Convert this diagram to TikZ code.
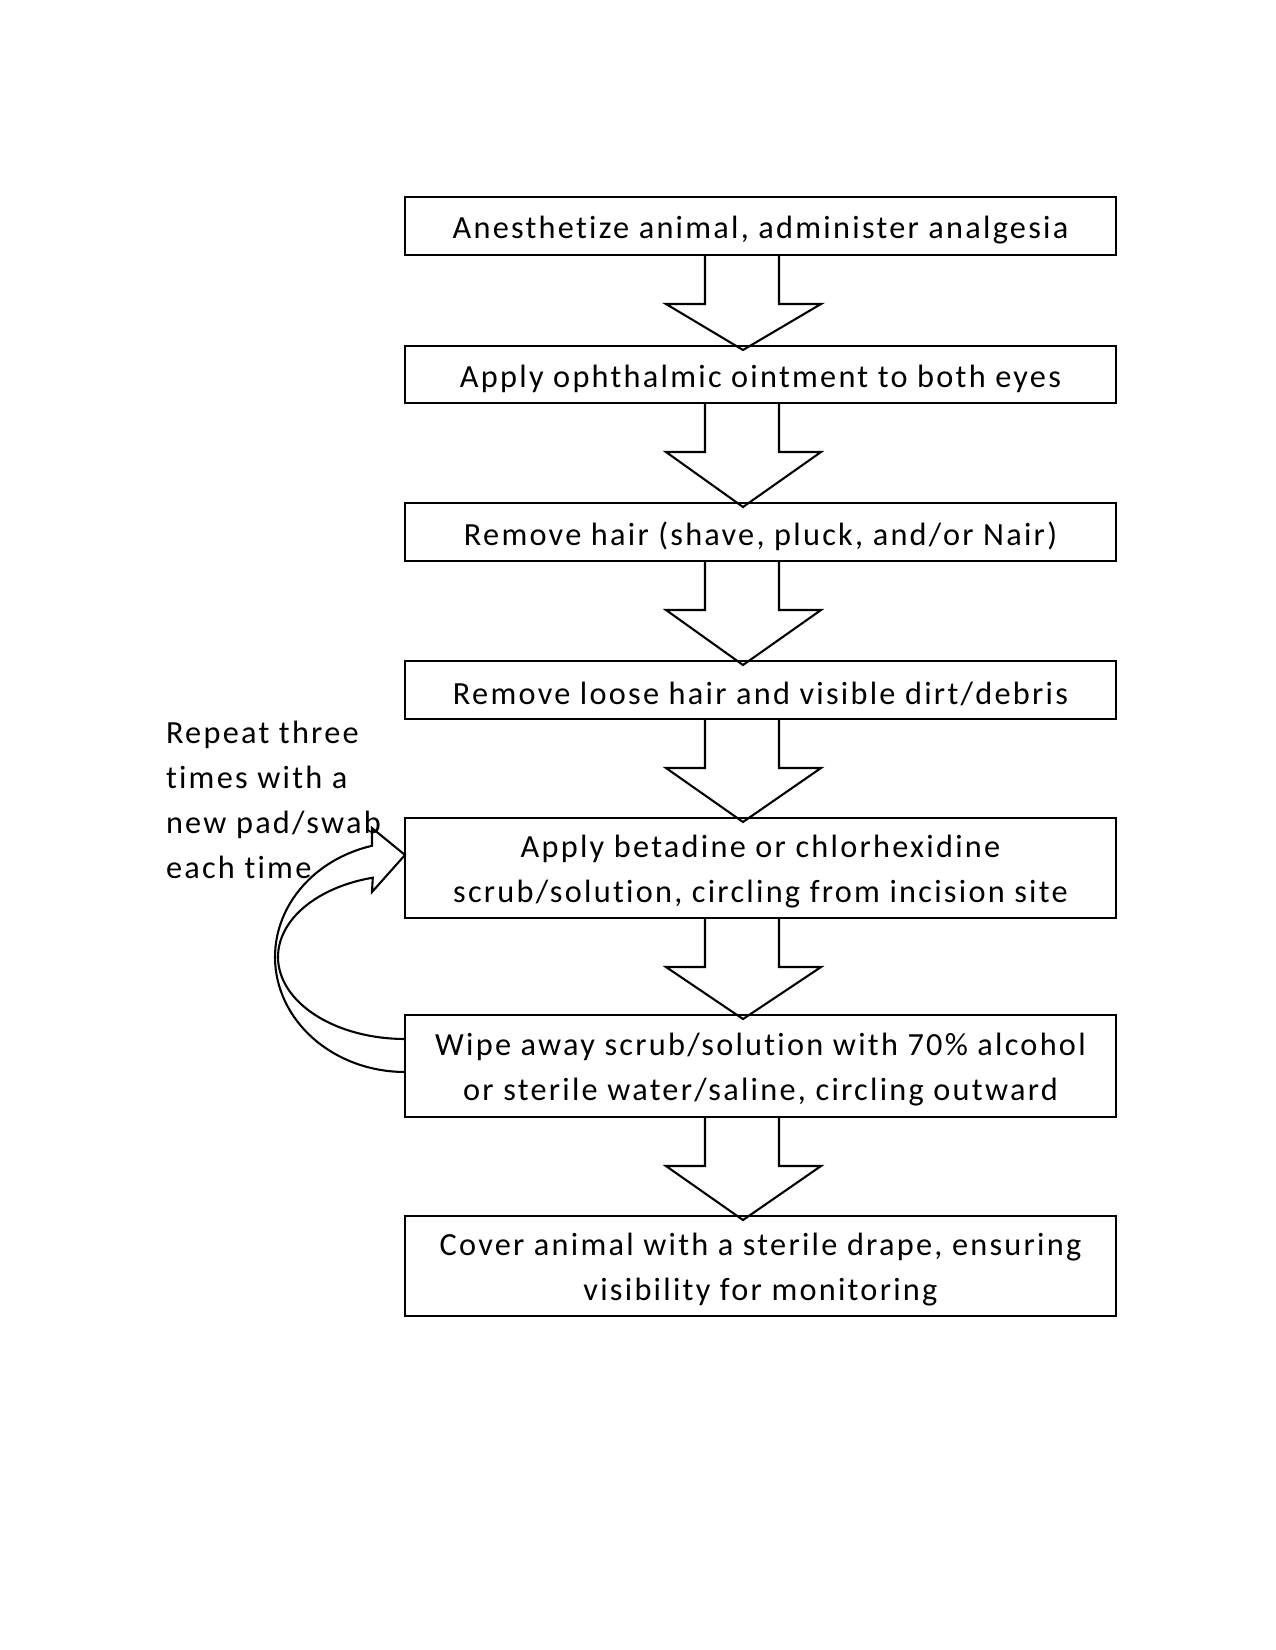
\documentclass[tikz,border=0pt]{standalone}
\usepackage{fontspec}
\setmainfont{Carlito}[LetterSpace=7, Ligatures={NoCommon}]
\usetikzlibrary{calc}
\tikzset{
  stepbox/.style={draw, line width=1pt, rectangle, inner sep=0pt, outer sep=0pt,
    minimum width=341.3pt},
  steptext/.style={inner sep=0pt, outer sep=0pt, align=center, font=\fontsize{15.5}{21.6}\selectfont},
  blockarrow/.style={draw, line width=1pt, line join=miter},
  sidetext/.style={inner sep=0pt, outer sep=0pt, align=left, font=\fontsize{15.5}{21.6}\selectfont}
}
\newcommand\blockarr[2]{%
  \draw[blockarrow] ($(#1.south)+(-55.5,0)$) -- ++(0,49) -- ++(-39,0)
    -- ($(#2.north)+(-17.5,4)$) -- ($(#1.south)+(60.5,49)$) -- ++(-42,0)
    -- ($(#1.south)+(18.5,0)$);}
\begin{document}
\begin{tikzpicture}[x=0.48pt, y=-0.48pt]
\useasboundingbox (0,0) rectangle (1275,1650);
\node[stepbox, minimum height=27.84pt] (b1) at (760.5,226) {};
\node[stepbox, minimum height=27.36pt] (b2) at (760.5,374.5) {};
\node[stepbox, minimum height=27.84pt] (b3) at (760.5,532) {};
\node[stepbox, minimum height=27.84pt] (b4) at (760.5,690) {};
\node[stepbox, minimum height=48pt] (b5) at (760.5,868) {};
\node[stepbox, minimum height=48.96pt] (b6) at (760.5,1066) {};
\node[stepbox, minimum height=48pt] (b7) at (760.5,1266) {};
\node[steptext] (t1) at ($(b1.center)+(0,4)$) {Anesthetize animal, administer analgesia};
\node[steptext] (t2) at ($(b2.center)+(0,4)$) {Apply ophthalmic ointment to both eyes};
\node[steptext] (t3) at ($(b3.center)+(0,4)$) {Remove hair (shave, pluck, and/or Nair)};
\node[steptext] (t4) at ($(b4.center)+(0,4)$) {Remove loose hair and visible dirt/debris};
\node[steptext] (t5) at ($(b5.center)+(0,4)$) {Apply betadine or chlorhexidine\\scrub/solution, circling from incision site};
\node[steptext] (t6) at ($(b6.center)+(0,4)$) {Wipe away scrub/solution with 70\% alcohol\\or sterile water/saline, circling outward};
\node[steptext] (t7) at ($(b7.center)+(0,4)$) {Cover animal with a sterile drape, ensuring\\visibility for monitoring};
\blockarr{b1}{b2}
\blockarr{b2}{b3}
\blockarr{b3}{b4}
\blockarr{b4}{b5}
\blockarr{b5}{b6}
\blockarr{b6}{b7}
\node[sidetext, anchor=north west] (rep) at (166,721) {Repeat three\\times with a\\new pad/swab\\each time};
\draw[blockarrow]
  plot[domain=90:255.3, samples=60, variable=\t] ({405+130*cos(\t)},{957+115*sin(\t)})
  -- (372,828) -- (405,855) -- (372,892)
  -- plot[domain=255.3:90, samples=60, variable=\t] ({405+127*cos(\t)},{957+82*sin(\t)});
\end{tikzpicture}
\end{document}
